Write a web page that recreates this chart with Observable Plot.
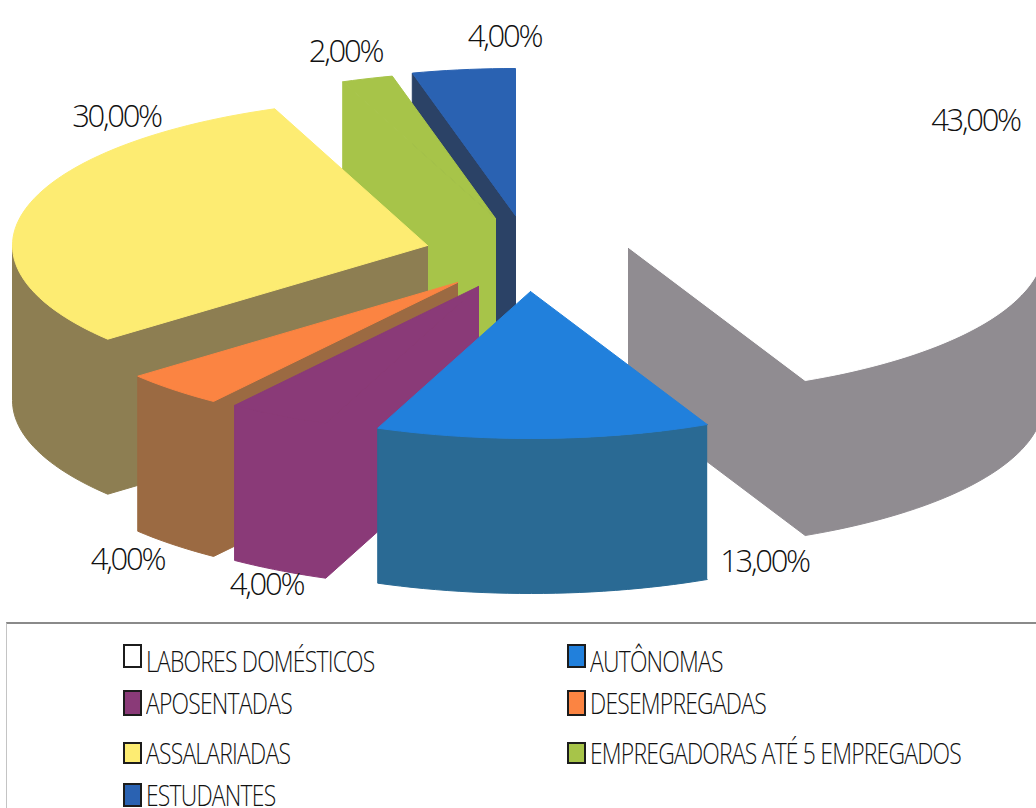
<!DOCTYPE html>
<html lang="pt">
<head>
<meta charset="utf-8">
<script src="https://cdn.jsdelivr.net/npm/d3@7"></script>
<script src="https://cdn.jsdelivr.net/npm/@observablehq/plot@0.6"></script>
<style>
  html, body { margin: 0; background: #fff; }
  #page { position: relative; width: 1036px; height: 808px; overflow: hidden; }
  #page svg { display: block; position: absolute; left: 0; top: 0; }
  #legend { position: absolute; left: 6px; top: 622px; width: 1030px; height: 186px;
            border-top: 2px solid #8a8a8a; border-left: 1px solid #c4c4c4; box-sizing: border-box; }
  .sw { position: absolute; box-sizing: border-box; border: 2px solid #1c1c1c; }
  .lb { position: absolute; white-space: nowrap; color: #111; font-family: "Open Sans", sans-serif;
        font-weight: 300; font-size: 29px; line-height: 24px; letter-spacing: -1px;
        transform: scaleX(0.79); transform-origin: left center; }
</style>
</head>
<body>
<div id="page"></div>
<script>
// Ocupação das entrevistadas (%)
const categories = ["LABORES DOMÉSTICOS", "AUTÔNOMAS", "APOSENTADAS", "DESEMPREGADAS", "ASSALARIADAS", "EMPREGADORAS ATÉ 5 EMPREGADOS", "ESTUDANTES"];
const values = [43, 13, 4, 4, 30, 2, 4];

// Colours of the upper face and of the extruded sides
const topColors = ["#ffffff", "#2180dc", "#8a3a78", "#fb8442", "#fdec72", "#a7c449", "#2a62b2"];
const sideColors = ["#908c91", "#2a6a94", "#8a3a78", "#9b6a42", "#8d7e52", "#a7c449", "#2b4266"];

// Position of each exploded wedge's apex
const apexX = [628, 530, 478, 457, 427, 495, 515];
const apexY = [247, 291, 286, 282, 245, 218, 215];

// Elliptical projection of the disc and its thickness
const rx = 415, ry = 147, depth = 155;

// Back-to-front painting order of the wedges
const paintOrder = [6, 5, 4, 3, 2, 0, 1];

// Percentage labels
const labelX = [975, 764, 266, 127, 116, 345, 504];
const labelY = [121, 562, 585, 560, 117, 52, 37];

// Legend layout
const legendCol = [0, 1, 0, 1, 0, 1, 0];
const legendRowTop = [644, 644, 690, 690, 742, 742, 783];
const legendRowH = [24, 24, 26, 26, 22, 22, 24];
const legendTextMid = [661, 661, 703, 703, 753, 753, 795];
const legendSwatchX = [123, 567];
const legendSwatchW = [19, 19];
const legendTextX = [146, 590];

const W = 1036;
const total = d3.sum(values);
const cum = d3.cumsum(values);
const point = (i, a, dz = 0) => ({
  x: apexX[i] + rx * Math.sin(a),
  y: apexY[i] - ry * Math.cos(a) + dz
});
const arc = (i, a0, a1, dz = 0) => {
  const n = Math.max(2, Math.ceil((a1 - a0) / 0.03));
  return d3.range(n + 1).map(k => point(i, a0 + (a1 - a0) * k / n, dz));
};

const marks = [];
const face = (pts, color) => marks.push(Plot.line(pts, {x: "x", y: "y", fill: color, stroke: color, strokeWidth: 1}));

for (const i of paintOrder) {
  const a0 = 2 * Math.PI * (cum[i] - values[i]) / total;
  const a1 = 2 * Math.PI * cum[i] / total;
  const apex = {x: apexX[i], y: apexY[i]};
  const low = {x: apexX[i], y: apexY[i] + depth};
  // Visible sides as one outline: the front part of the rim plus the radial wall facing the viewer
  const f0 = Math.max(a0, Math.PI / 2), f1 = Math.min(a1, 3 * Math.PI / 2);
  const rimTop = f1 > f0 ? arc(i, f0, f1) : [];
  const rimLow = f1 > f0 ? arc(i, f0, f1, depth).reverse() : [];
  if (Math.sin(a0) < -1e-6) {
    const wall = rimTop.length ? rimTop : [point(i, a0)];
    const wallLow = rimLow.length ? rimLow : [point(i, a0, depth)];
    face([apex, ...wall, ...wallLow, low, apex], sideColors[i]);
  } else if (Math.sin(a1) > 1e-6) {
    face([...rimTop, apex, low, ...rimLow], sideColors[i]);
  } else {
    face([...rimTop, ...rimLow], sideColors[i]);
  }
  // Upper face
  face([apex, ...arc(i, a0, a1), apex], topColors[i]);
}

const pct = v => v.toFixed(2).replace(".", ",") + "%";
marks.push(Plot.text(values, {
  x: (d, i) => labelX[i],
  y: (d, i) => labelY[i],
  text: d => pct(d),
  fontFamily: "Open Sans, sans-serif",
  fontWeight: 300,
  fontSize: 31,
  fill: "#111",
  textAnchor: "middle"
}));

const svgH = 616;
const chart = Plot.plot({
  width: W, height: svgH,
  margin: 0,
  x: {domain: [0, W], range: [0, W], axis: null},
  y: {domain: [0, svgH], range: [0, svgH], axis: null},
  style: {background: "transparent", letterSpacing: "-2.3px"},
  marks
});

const page = document.getElementById("page");
page.appendChild(chart);

const legend = document.createElement("div");
legend.id = "legend";
page.appendChild(legend);
const offX = 7, offY = 624;
categories.forEach((c, i) => {
  const col = legendCol[i];
  const sw = document.createElement("div");
  sw.className = "sw";
  sw.style.cssText = `left:${legendSwatchX[col] - offX}px;top:${legendRowTop[i] - offY}px;width:${legendSwatchW[col]}px;height:${legendRowH[i]}px;background:${topColors[i]}`;
  legend.appendChild(sw);
  const lb = document.createElement("div");
  lb.className = "lb";
  lb.textContent = c;
  lb.style.cssText = `left:${legendTextX[col] - offX}px;top:${legendTextMid[i] - offY - 12}px`;
  legend.appendChild(lb);
});
</script>
</body>
</html>
